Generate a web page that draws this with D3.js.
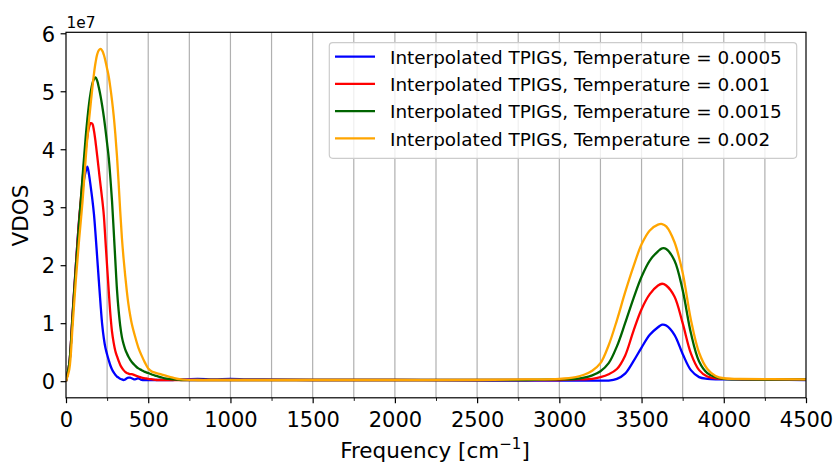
<!DOCTYPE html>
<html><head><meta charset="utf-8">
<script src="https://cdn.jsdelivr.net/npm/d3@7"></script>
<style>
body{margin:0;background:#fff}
svg{display:block}
text{font-family:"DejaVu Sans",sans-serif;fill:#000}
</style>
</head><body>
<svg id="chart" width="835" height="462"></svg>
<script>
// ---- data (VDOS in units of 1e7) ----
const frequency = [0, 20, 40, 60, 80, 100, 120, 130, 140, 150,
  160, 170, 180, 190, 200, 210, 220, 230, 240, 250,
  260, 270, 280, 290, 300, 310, 320, 330, 340, 350,
  360, 370, 380, 390, 400, 420, 440, 460, 480, 500,
  525, 550, 575, 600, 650, 700, 800, 900, 1000, 1100,
  1200, 1500, 2000, 2500, 2800, 3000, 3100, 3150, 3200, 3250,
  3300, 3350, 3400, 3450, 3500, 3550, 3600, 3625, 3650, 3700, 3750,
  3800, 3850, 3900, 3950, 4000, 4100, 4500];

const vdosT0005 = [0, 0.3, 1.15, 2.0, 2.78, 3.3, 3.62, 3.70, 3.56, 3.36,
  3.14, 2.88, 2.52, 2.12, 1.72, 1.33, 0.98, 0.74, 0.57, 0.46,
  0.36, 0.27, 0.2, 0.15, 0.11, 0.08, 0.06, 0.04, 0.03, 0.02,
  0.03, 0.05, 0.06, 0.06, 0.05, 0.03, 0.05, 0.02, 0.02, 0.02,
  0.02, 0.02, 0.02, 0.02, 0.02, 0.03, 0.04, 0.03, 0.04, 0.03,
  0.03, 0.02, 0.02, 0.01, 0.01, 0.01, 0.01, 0.01, 0.01, 0.01,
  0.01, 0.04, 0.13, 0.34, 0.58, 0.8, 0.93, 0.975, 0.96, 0.8, 0.47,
  0.19, 0.07, 0.04, 0.03, 0.03, 0.03, 0.02];

const vdosT001 = [0, 0.3, 1.15, 2.0, 2.8, 3.45, 4.0, 4.22, 4.38, 4.45,
  4.44, 4.32, 4.12, 3.88, 3.63, 3.38, 3.14, 2.86, 2.42, 1.98,
  1.55, 1.15, 0.85, 0.66, 0.52, 0.43, 0.35, 0.28, 0.23, 0.19,
  0.16, 0.14, 0.13, 0.12, 0.12, 0.1, 0.08, 0.06, 0.05, 0.04,
  0.03, 0.02, 0.02, 0.02, 0.02, 0.02, 0.02, 0.02, 0.02, 0.02,
  0.02, 0.02, 0.02, 0.02, 0.02, 0.02, 0.03, 0.03, 0.04, 0.07,
  0.12, 0.21, 0.44, 0.86, 1.24, 1.5, 1.65, 1.68, 1.65, 1.46, 1.0,
  0.48, 0.19, 0.08, 0.05, 0.04, 0.03, 0.03];

const vdosT0015 = [0, 0.3, 1.12, 1.95, 2.75, 3.5, 4.22, 4.52, 4.78, 4.98,
  5.13, 5.21, 5.24, 5.18, 5.06, 4.92, 4.75, 4.56, 4.34, 4.1,
  3.85, 3.5, 3.1, 2.6, 2.08, 1.58, 1.22, 0.95, 0.76, 0.64,
  0.55, 0.48, 0.42, 0.37, 0.33, 0.27, 0.22, 0.19, 0.16, 0.14,
  0.11, 0.09, 0.07, 0.05, 0.03, 0.02, 0.02, 0.02, 0.02, 0.02,
  0.02, 0.02, 0.02, 0.02, 0.02, 0.03, 0.04, 0.06, 0.1, 0.17,
  0.31, 0.6, 1.0, 1.42, 1.8, 2.08, 2.24, 2.29, 2.28, 2.08, 1.57,
  0.83, 0.34, 0.14, 0.07, 0.04, 0.03, 0.03];

const vdosT002 = [0, 0.2, 0.95, 1.75, 2.45, 3.08, 3.85, 4.2, 4.5, 4.78,
  5.05, 5.3, 5.5, 5.64, 5.71, 5.73, 5.7, 5.63, 5.52, 5.39,
  5.25, 5.06, 4.84, 4.58, 4.26, 3.88, 3.42, 2.92, 2.47, 2.12,
  1.82, 1.55, 1.32, 1.14, 0.99, 0.77, 0.58, 0.44, 0.32, 0.22,
  0.16, 0.14, 0.12, 0.1, 0.06, 0.03, 0.02, 0.02, 0.02, 0.02,
  0.02, 0.02, 0.02, 0.02, 0.03, 0.04, 0.07, 0.11, 0.18, 0.31,
  0.62, 1.05, 1.53, 1.97, 2.36, 2.6, 2.7, 2.71, 2.67, 2.4, 1.87,
  1.06, 0.49, 0.21, 0.09, 0.05, 0.04, 0.03];

const seriesLabels = [
  "Interpolated TPIGS, Temperature = 0.0005",
  "Interpolated TPIGS, Temperature = 0.001",
  "Interpolated TPIGS, Temperature = 0.0015",
  "Interpolated TPIGS, Temperature = 0.002"
];
const seriesValues = [vdosT0005, vdosT001, vdosT0015, vdosT002];
const seriesColors = ["#0000ff", "#ff0000", "#006400", "#ffa500"];

const xTicks = [0, 500, 1000, 1500, 2000, 2500, 3000, 3500, 4000, 4500];
const xMinorTicks = [250, 750, 1250, 1750, 2250, 2750, 3250, 3750, 4250];
const yTicks = [0, 1, 2, 3, 4, 5, 6];

// ---- layout ----
const L = 66, R = 806, T = 32.3, B = 397.8;
const x = d3.scaleLinear().domain([0, 4500]).range([L, R]);
const y = d3.scaleLinear().domain([-0.287, 6.017]).range([B, T]);

const svg = d3.select("#chart");
svg.append("rect").attr("width", 835).attr("height", 462).attr("fill", "#fff");

svg.append("defs").append("clipPath").attr("id", "clip")
  .append("rect").attr("x", L).attr("y", T).attr("width", R - L).attr("height", B - T);

// grid (major + minor, x only)
const gridVals = xTicks.concat(xMinorTicks).filter(v => v > 0 && v < 4500);
svg.append("g").selectAll("line").data(gridVals).join("line")
  .attr("x1", d => x(d)).attr("x2", d => x(d))
  .attr("y1", T).attr("y2", B)
  .attr("stroke", "#b0b0b0").attr("stroke-width", 1.2);

// lines
const line = d3.line().x((d, i) => x(frequency[i])).y(d => y(d)).curve(d3.curveCatmullRom.alpha(0.5));
const gLines = svg.append("g").attr("clip-path", "url(#clip)");
seriesValues.forEach((vals, k) => {
  gLines.append("path").datum(vals)
    .attr("d", line)
    .attr("fill", "none")
    .attr("stroke", seriesColors[k])
    .attr("stroke-width", 2.3)
    .attr("stroke-linejoin", "round");
});

// axes via d3 axis generators
const xAxis = d3.axisBottom(x).tickValues(xTicks).tickFormat(d3.format("d"))
  .tickSize(5.4).tickPadding(5);
const gx = svg.append("g").attr("transform", `translate(0,${B})`).call(xAxis);
gx.select(".domain").remove();
gx.selectAll(".tick line").attr("stroke", "#000").attr("stroke-width", 1.2);
gx.selectAll(".tick text").attr("font-size", 21).attr("dy", null).attr("y", 29.5)
  .style("font-family", "'DejaVu Sans', sans-serif");

const xMinor = d3.axisBottom(x).tickValues(xMinorTicks).tickFormat("").tickSize(3.1);
const gxm = svg.append("g").attr("transform", `translate(0,${B})`).call(xMinor);
gxm.select(".domain").remove();
gxm.selectAll(".tick line").attr("stroke", "#000").attr("stroke-width", 0.9);

const yAxis = d3.axisLeft(y).tickValues(yTicks).tickFormat(d3.format("d"))
  .tickSize(5.4).tickPadding(5);
const gy = svg.append("g").attr("transform", `translate(${L},0)`).call(yAxis);
gy.select(".domain").remove();
gy.selectAll(".tick line").attr("stroke", "#000").attr("stroke-width", 1.2);
gy.selectAll(".tick text").attr("font-size", 21).attr("dy", "0.37em").attr("x", -11)
  .style("font-family", "'DejaVu Sans', sans-serif");

// frame
svg.append("rect").attr("x", L).attr("y", T).attr("width", R - L).attr("height", B - T)
  .attr("fill", "none").attr("stroke", "#000").attr("stroke-width", 1.2);

// offset text
svg.append("text").attr("x", 66.5).attr("y", 28).attr("font-size", 15.4).text("1e7");

// axis labels
svg.append("text").attr("transform", "translate(28.3,215.5) rotate(-90)")
  .attr("text-anchor", "middle").attr("font-size", 21.5).text("VDOS");

const xl = svg.append("text").attr("x", 435).attr("y", 457.7)
  .attr("text-anchor", "middle").attr("font-size", 21.5);
xl.append("tspan").text("Frequency [cm");
xl.append("tspan").attr("dy", -8.4).attr("font-size", 15).text("\u22121");
xl.append("tspan").attr("dy", 8.4).text("]");

// legend
const lg = svg.append("g");
lg.append("rect").attr("x", 329.3).attr("y", 42.7).attr("width", 467.4).attr("height", 115.6)
  .attr("rx", 3.5).attr("fill", "#fff").attr("fill-opacity", 0.8)
  .attr("stroke", "#cccccc").attr("stroke-width", 1.2);
seriesLabels.forEach((lab, k) => {
  const ly = 56.7 + k * 27.2;
  lg.append("line").attr("x1", 335).attr("x2", 375).attr("y1", ly).attr("y2", ly)
    .attr("stroke", seriesColors[k]).attr("stroke-width", 2.3);
  lg.append("text").attr("x", 390).attr("y", ly + 7.3).attr("font-size", 18.4).text(lab);
});
</script>
</body></html>
